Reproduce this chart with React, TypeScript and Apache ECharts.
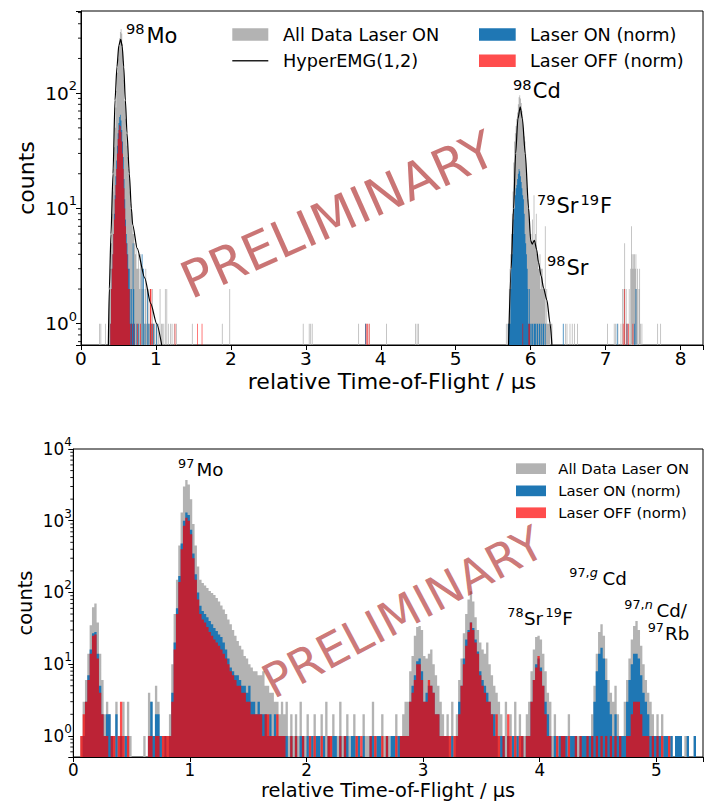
import React, { useEffect, useRef } from 'react';
import * as echarts from 'echarts';

const FONT = 'DejaVu Sans';
const GRAY = '#b3b3b3';
const BLUE = '#1f77b4';
const RED = 'rgba(255,0,0,0.7)';
const RED_PATCH = '#ff4d4d';
const WATERMARK = 'rgba(170,32,32,0.62)';

// ---------------- top panel (A = 98) ----------------
const TOP_BIN = 0.01;
const TOP_X_MAX = 8.3;
const TOP_Y_MIN = 0.654;
const TOP_Y_MAX = 516;

const topGrayMoStart = 0.36;
const topGrayMo = [
  1, 2, 2, 3, 5, 9, 14, 22, 34, 50,
  75, 105, 150, 200, 255, 300, 340, 360, 330, 265,
  190, 130, 85, 60, 45, 35, 28, 22, 18, 14,
  11, 9, 7, 6, 6, 5, 4, 5, 3, 3,
  4, 3, 2, 4, 3, 2, 3, 2, 1, 2,
  3, 1, 2, 1, 2, 1, 2, 1, 1, 2,
  1, 1, 1,
];
const topGrayCdStart = 5.69;
const topGrayCd = [
  1, 1, 2, 3, 4, 6, 9, 14, 25, 38,
  45, 52, 60, 68, 80, 92, 96, 90, 82, 70,
  60, 50, 42, 38, 30, 20, 15, 12, 10, 8,
  6, 6, 5, 8, 5, 13, 5, 6, 9, 4,
  4, 3, 3, 4, 2, 3, 3, 2, 2, 2,
  7, 1, 2, 1, 1, 1, 1, 0, 1, 1,
];
const topGraySingles = [
  [0.24, 1], [0.26, 1], [0.32, 1], [1.0, 1], [1.01, 1], [1.03, 1], [1.05, 2], [1.07, 1],
  [1.08, 1], [1.1, 1], [1.12, 2], [1.14, 2], [1.16, 1], [1.19, 1], [1.21, 1], [1.24, 1],
  [1.27, 1], [1.48, 1], [1.88, 1], [1.98, 2], [2.96, 1], [3.04, 1], [3.06, 1], [3.08, 1],
  [3.7, 1], [3.79, 1], [3.81, 1], [3.84, 1], [4.07, 1], [4.46, 1], [4.48, 1], [4.5, 1],
  [5.67, 1], [6.46, 1], [6.48, 1], [6.52, 1], [6.55, 1], [6.58, 1], [6.62, 1], [7.02, 1],
  [7.11, 1], [7.13, 1], [7.16, 1], [7.2, 1], [7.22, 2], [7.24, 2], [7.25, 5], [7.27, 2],
  [7.29, 1], [7.31, 2], [7.33, 3], [7.34, 7], [7.35, 4], [7.36, 3], [7.37, 4], [7.38, 4],
  [7.39, 3], [7.4, 4], [7.41, 2], [7.42, 3], [7.44, 2], [7.45, 3], [7.46, 1], [7.48, 1],
  [7.69, 1], [7.73, 1],
];

const topBlueMoStart = 0.39;
const topBlueMo = [
  1, 2, 3, 4, 6, 9, 13, 19, 26, 35,
  45, 55, 62, 65, 58, 48, 38, 28, 18, 12,
  8, 6, 5, 4, 3, 3, 2, 1, 2, 1,
  5, 2, 1, 0, 0, 1, 0, 1, 0, 0,
  0, 0, 4, 0, 3, 0, 1, 0, 0, 2,
  0, 1, 0, 0, 1, 0, 0, 1, 0, 0,
  0, 1,
];
const topBlueCdStart = 5.7;
const topBlueCd = [
  1, 1, 1, 2, 3, 4, 6, 8, 10, 13,
  15, 16, 18, 20, 22, 21, 19, 17, 15, 13,
  12, 9, 6, 5, 4, 3, 2, 1, 2, 1,
  0, 1, 1, 0, 1, 1, 1, 0, 1, 1,
  0, 1, 1, 0, 1, 0, 1, 1, 0, 1,
];
const topBlueSingles = [[3.79, 1], [6.43, 1], [7.15, 1], [7.28, 1], [7.38, 1], [7.4, 2]];

const topRedMoStart = 0.39;
const topRedMo = [
  1, 2, 3, 4, 6, 8, 12, 16, 22, 30,
  40, 48, 53, 52, 46, 38, 30, 22, 15, 10,
  7, 5, 4, 3, 2, 2, 1, 0, 1, 0,
  0, 1, 0, 0, 0, 0, 1, 0, 0, 0,
  1, 0, 0, 0, 0, 0, 0, 0, 0, 0,
  0, 0, 0, 2, 2, 0, 1,
];
const topRedSingles = [
  [1.25, 1], [1.55, 1], [1.61, 1], [3.8, 1], [3.82, 1], [3.84, 1], [5.89, 1],
  [5.97, 1], [5.98, 1], [7.23, 1], [7.25, 2], [7.28, 1], [7.3, 1], [7.36, 1],
];

const fitMo = [
  [0.365, 0.654], [0.378, 2], [0.4, 6], [0.427, 20], [0.454, 87], [0.48, 169], [0.505, 260],
  [0.53, 293], [0.55, 255], [0.57, 169], [0.592, 87], [0.614, 45], [0.645, 20], [0.672, 10],
  [0.69, 7.2], [0.75, 4.5], [0.85, 2.5], [0.93, 1.5], [1.01, 1.0], [1.077, 0.654],
];
const fitCd = [
  [5.705, 0.654], [5.74, 3], [5.772, 10], [5.8, 30], [5.83, 60], [5.861, 76], [5.89, 60],
  [5.928, 30], [5.973, 10], [6.0, 5.3], [6.02, 4.9], [6.05, 5.3], [6.08, 4.4], [6.105, 3.4],
  [6.14, 2.6], [6.172, 2.05], [6.217, 1.6], [6.26, 1.0], [6.284, 0.654],
];

// ---------------- bottom panel (A = 97) ----------------
const BOT_BIN = 0.02;
const BOT_X_MAX = 5.4;
const BOT_Y_MIN = 0.508;
const BOT_Y_MAX = 10000;

const botGray = [
  0, 0, 0, 1, 3, 6, 14, 35, 62, 70,
  38, 14, 6, 2, 3, 2, 1, 1, 3, 1,
  1, 3, 1, 3, 1, 0, 0, 0, 0, 0,
  1, 0, 4, 3, 1, 5, 3, 1, 1, 0,
  1, 2, 10, 50, 150, 450, 1300, 3000, 3700, 3200,
  2000, 900, 450, 230, 150, 135, 125, 115, 105, 98,
  92, 84, 75, 66, 58, 50, 42, 36, 30, 25,
  21, 18, 16, 13, 12, 10, 9, 8, 8, 7,
  7, 8, 5, 5, 4, 4, 3, 3, 2, 3,
  2, 3, 1, 2, 1, 2, 1, 3, 1, 1,
  2, 1, 1, 2, 1, 0, 2, 1, 3, 1,
  1, 2, 1, 1, 3, 1, 1, 2, 1, 0,
  2, 1, 1, 0, 2, 1, 1, 1, 3, 1,
  1, 0, 2, 1, 1, 1, 0, 1, 2, 1,
  1, 2, 3, 3, 8, 13, 25, 33, 34, 30,
  13, 12, 14, 16, 10, 7, 5, 3, 2, 1,
  2, 1, 3, 1, 2, 6, 12, 27, 50, 80,
  104, 75, 45, 30, 20, 16, 14, 20, 10, 7,
  5, 4, 3, 2, 1, 3, 1, 2, 1, 3,
  1, 2, 1, 1, 2, 3, 8, 16, 24, 25,
  22, 14, 8, 4, 3, 1, 2, 1, 0, 1,
  1, 0, 2, 1, 1, 0, 1, 0, 1, 1,
  1, 1, 2, 5, 14, 28, 36, 25, 12, 6,
  4, 3, 5, 2, 1, 1, 3, 6, 12, 22,
  34, 40, 30, 18, 10, 6, 4, 3, 2, 1,
  2, 1, 2, 1, 0, 1, 1, 0, 1, 1,
  1, 0, 1, 1, 0, 0, 1, 0, 0, 0,
];
const botBlue = [
  0, 0, 0, 0, 1, 3, 7, 16, 27, 28,
  14, 5, 2, 1, 2, 2, 1, 0, 2, 0,
  1, 0, 1, 0, 0, 0, 0, 0, 0, 0,
  0, 0, 1, 3, 1, 2, 2, 1, 0, 1,
  0, 1, 4, 20, 60, 170, 480, 1000, 1300, 1200,
  750, 350, 180, 100, 65, 55, 50, 45, 40, 36,
  32, 29, 26, 24, 20, 16, 12, 9, 8, 7,
  7, 6, 5, 5, 4, 5, 3, 3, 2, 3,
  2, 2, 2, 1, 2, 1, 2, 1, 1, 1,
  1, 1, 0, 1, 0, 1, 0, 1, 1, 0,
  1, 0, 1, 0, 1, 1, 0, 1, 0, 1,
  0, 1, 1, 0, 1, 0, 1, 1, 0, 1,
  1, 0, 1, 0, 1, 0, 0, 1, 1, 0,
  1, 1, 0, 0, 1, 0, 1, 1, 0, 1,
  1, 1, 1, 1, 3, 5, 7, 11, 12, 8,
  3, 4, 5, 5, 4, 2, 2, 1, 1, 1,
  1, 0, 1, 0, 1, 3, 5, 12, 22, 30,
  38, 32, 22, 15, 8, 6, 5, 4, 3, 2,
  2, 1, 0, 1, 1, 0, 1, 0, 1, 0,
  1, 0, 1, 0, 1, 1, 3, 6, 10, 12,
  9, 5, 3, 2, 1, 0, 1, 0, 1, 1,
  1, 1, 0, 1, 1, 1, 0, 1, 1, 1,
  1, 1, 1, 3, 8, 14, 17, 12, 6, 3,
  2, 1, 2, 1, 1, 1, 1, 3, 6, 10,
  14, 14, 12, 7, 4, 3, 2, 1, 1, 1,
  1, 1, 0, 1, 1, 0, 1, 0, 1, 1,
  1, 0, 0, 1, 0, 0, 1, 0, 0, 0,
];
const botRed = [
  0, 0, 0, 1, 2, 3, 6, 14, 25, 26,
  12, 4, 2, 1, 1, 0, 1, 1, 0, 1,
  3, 1, 0, 1, 0, 0, 0, 0, 0, 0,
  0, 0, 1, 1, 0, 1, 1, 0, 1, 1,
  1, 1, 3, 16, 50, 140, 400, 850, 1100, 1000,
  650, 300, 150, 80, 50, 42, 38, 33, 28, 25,
  22, 20, 18, 16, 14, 12, 10, 8, 7, 6,
  5, 5, 4, 4, 3, 3, 2, 2, 2, 2,
  2, 1, 2, 2, 1, 1, 1, 2, 1, 1,
  1, 0, 0, 1, 0, 1, 0, 0, 1, 0,
  0, 1, 0, 1, 0, 0, 1, 0, 0, 1,
  1, 0, 0, 0, 1, 0, 1, 0, 0, 0,
  0, 1, 0, 1, 0, 0, 0, 1, 0, 1,
  0, 0, 1, 0, 1, 0, 0, 0, 1, 0,
  1, 1, 1, 1, 3, 4, 6, 10, 10, 6,
  3, 3, 6, 5, 4, 2, 2, 1, 1, 1,
  1, 1, 0, 1, 1, 2, 5, 10, 18, 28,
  38, 30, 20, 14, 7, 5, 4, 3, 3, 2,
  1, 2, 1, 0, 1, 0, 2, 1, 0, 1,
  0, 1, 1, 0, 1, 1, 3, 6, 9, 13,
  8, 5, 2, 1, 1, 0, 0, 1, 0, 1,
  1, 0, 1, 0, 0, 1, 0, 1, 0, 0,
  1, 0, 1, 0, 1, 0, 1, 0, 1, 0,
  1, 0, 1, 0, 1, 0, 0, 1, 1, 2,
  3, 3, 3, 2, 1, 1, 1, 0, 1, 0,
  1, 0, 1, 0, 0, 1, 0, 0, 0, 0,
  0, 0, 0, 0, 0, 0, 0, 0, 0, 0,
];

const topMinor = [0.7, 0.8, 0.9, 2, 3, 4, 5, 6, 7, 8, 9, 20, 30, 40, 50, 60, 70, 80, 90, 200, 300, 400, 500];
const botMinor = [
  0.6, 0.7, 0.8, 0.9, 2, 3, 4, 5, 6, 7, 8, 9, 20, 30, 40, 50, 60, 70, 80, 90,
  200, 300, 400, 500, 600, 700, 800, 900, 2000, 3000, 4000, 5000, 6000, 7000, 8000, 9000,
];

// ---------------- helpers ----------------
function denseCounts(nBins: number, w: number, segments: [number, number[]][], singles: number[][]) {
  const arr = new Array(nBins).fill(0);
  for (const [start, counts] of segments) {
    const k0 = Math.round(start / w);
    counts.forEach((c, i) => {
      const k = k0 + i;
      if (k >= 0 && k < nBins) arr[k] = c;
    });
  }
  for (const [t, c] of singles) {
    const k = Math.round(t / w);
    if (k >= 0 && k < nBins) arr[k] = c;
  }
  return arr;
}

function stepPoints(counts: number[], w: number, floor: number) {
  const pts: number[][] = [];
  for (let i = 0; i < counts.length; i++) {
    const c = counts[i];
    pts.push([+(i * w).toFixed(4), c > 0 ? c : floor]);
  }
  pts.push([+(counts.length * w).toFixed(4), floor]);
  return pts;
}

function histSeries(name: string, data: number[][], color: string, idx: number, z: number) {
  return {
    type: 'line', name, xAxisIndex: idx, yAxisIndex: idx, data, step: 'end',
    symbol: 'none', showSymbol: false, silent: true, z, clip: true,
    lineStyle: { width: 0, opacity: 0 },
    areaStyle: { color, opacity: 1, origin: 'start' },
    emphasis: { disabled: true },
  };
}

function minorSeries(vals: number[], idx: number) {
  return {
    type: 'custom', coordinateSystem: 'cartesian2d', xAxisIndex: idx, yAxisIndex: idx,
    silent: true, z: 10,
    data: vals.map((v) => [0, v]),
    renderItem: (_p: any, api: any) => {
      const p = api.coord([api.value(0), api.value(1)]);
      return {
        type: 'line',
        shape: { x1: p[0] - 3, y1: p[1], x2: p[0], y2: p[1] },
        style: { stroke: '#000', lineWidth: 0.9 },
      };
    },
  };
}

function logLabel(fs: number, sfs: number, pad: number, margin: number) {
  return {
    margin,
    formatter: (v: number) => {
      const l = Math.log10(v);
      const r = Math.round(l);
      if (Math.abs(l - r) > 1e-6) return '';
      return `{b|10}{s|${r}}`;
    },
    rich: {
      b: { fontSize: fs, fontFamily: FONT, color: '#000' },
      s: { fontSize: sfs, fontFamily: FONT, color: '#000', padding: [0, 0, pad, 0] },
    },
  };
}

const intFormatter = (v: number) => (Math.abs(v - Math.round(v)) < 1e-6 ? String(Math.round(v)) : '');

function T(text: string, x: number, base: number, fs: number, extra: any = {}) {
  return {
    type: 'text', x, y: base - 0.346 * fs, z: 100, silent: true,
    style: {
      text, fontSize: fs, fontFamily: FONT, fill: '#000',
      align: 'left', verticalAlign: 'middle', textAlign: 'left', textVerticalAlign: 'middle', ...extra,
    },
  };
}
function TC(text: string, x: number, yc: number, fs: number, extra: any = {}, rot = 0) {
  return {
    type: 'text', x, y: yc, z: 100, silent: true, rotation: rot,
    style: {
      text, fontSize: fs, fontFamily: FONT, fill: '#000',
      align: 'left', verticalAlign: 'middle', textAlign: 'left', textVerticalAlign: 'middle', ...extra,
    },
  };
}
function rectEl(x: number, y: number, w: number, h: number, fill: string) {
  return { type: 'rect', z: 100, silent: true, shape: { x, y, width: w, height: h }, style: { fill } };
}
function supRich(num: string, ital: string, x: number, base: number, fs: number) {
  return {
    type: 'text', x, y: base - 0.346 * fs, z: 100, silent: true,
    style: {
      text: `{a|${num}}{i|${ital}}`, fontSize: fs, fontFamily: FONT, fill: '#000',
      align: 'left', verticalAlign: 'middle', textAlign: 'left', textVerticalAlign: 'middle',
      rich: {
        a: { fontSize: fs, fontFamily: FONT, fill: '#000', color: '#000' },
        i: { fontSize: fs, fontFamily: FONT, fontStyle: 'italic', fill: '#000', color: '#000' },
      },
    },
  };
}

function buildOption() {
  const nTop = Math.round(TOP_X_MAX / TOP_BIN);
  const topGray = denseCounts(nTop, TOP_BIN, [[topGrayMoStart, topGrayMo], [topGrayCdStart, topGrayCd]], topGraySingles);
  const topBlue = denseCounts(nTop, TOP_BIN, [[topBlueMoStart, topBlueMo], [topBlueCdStart, topBlueCd]], topBlueSingles);
  const topRed = denseCounts(nTop, TOP_BIN, [[topRedMoStart, topRedMo]], topRedSingles);

  const axisCommonX = (max: number, fs: number, margin: number, grid: number) => ({
    gridIndex: grid, type: 'value', min: 0, max, interval: 1,
    axisLine: { show: true, onZero: false, lineStyle: { color: '#000', width: 1 } },
    axisTick: { show: true, length: 5, lineStyle: { color: '#000', width: 1 } },
    axisLabel: { formatter: intFormatter, fontSize: fs, fontFamily: FONT, color: '#000', margin },
    splitLine: { show: false },
  });
  const axisCommonY = (min: number, max: number, grid: number, label: any) => ({
    gridIndex: grid, type: 'log', logBase: 10, min, max,
    axisLine: { show: true, lineStyle: { color: '#000', width: 1 } },
    axisTick: { show: true, length: 5, lineStyle: { color: '#000', width: 1 } },
    axisLabel: label,
    splitLine: { show: false },
    minorTick: { show: false },
  });

  const graphic: any[] = [
    // watermarks
    TC('PRELIMINARY', 338, 215, 51, { fill: WATERMARK, align: 'center', textAlign: 'center' }, (24 * Math.PI) / 180),
    TC('PRELIMINARY', 403, 612, 47, { fill: WATERMARK, align: 'center', textAlign: 'center' }, (28 * Math.PI) / 180),
    // axis titles
    TC('relative Time-of-Flight / \u03bcs', 392, 381.5, 22, { align: 'center', textAlign: 'center' }),
    TC('counts', 26, 178, 22, { align: 'center', textAlign: 'center' }, Math.PI / 2),
    TC('relative Time-of-Flight / \u03bcs', 388, 790, 19.4, { align: 'center', textAlign: 'center' }),
    TC('counts', 25.2, 603, 19.4, { align: 'center', textAlign: 'center' }, Math.PI / 2),
    // top legend
    rectEl(232.3, 28.3, 36, 12.4, GRAY),
    TC('All Data Laser ON', 283, 34.5, 17.7),
    { type: 'line', z: 100, silent: true, shape: { x1: 232.3, y1: 60.7, x2: 268.3, y2: 60.7 }, style: { stroke: '#222', lineWidth: 1.5 } },
    TC('HyperEMG(1,2)', 283, 60.7, 17.7),
    rectEl(479, 28.3, 36.7, 12.4, BLUE),
    TC('Laser ON (norm)', 530, 34.5, 17.7),
    rectEl(479, 54.5, 36.7, 12.4, RED_PATCH),
    TC('Laser OFF (norm)', 530, 60.7, 17.7),
    // bottom legend
    rectEl(516, 463.3, 30, 10.7, GRAY),
    TC('All Data Laser ON', 558.3, 468.7, 14.8),
    rectEl(516, 485.5, 30, 10.7, BLUE),
    TC('Laser ON (norm)', 558.3, 490.8, 14.8),
    rectEl(516, 507.4, 30, 10.7, RED_PATCH),
    TC('Laser OFF (norm)', 558.3, 512.7, 14.8),
    // top annotations
    T('98', 126, 33.3, 14.6), T('Mo', 146.5, 43.3, 21),
    T('98', 513, 90, 14.6), T('Cd', 532.8, 98.3, 21),
    T('79', 537, 205, 14.6), T('Sr', 556.5, 213.3, 21), T('19', 580.5, 205, 14.6), T('F', 600, 213.3, 21),
    T('98', 547, 266, 14.6), T('Sr', 566.5, 275, 21),
    // bottom annotations
    T('97', 178, 468.3, 12.8), T('Mo', 196.5, 476, 18.3),
    T('78', 507.3, 616.7, 12.8), T('Sr', 524, 625, 18.3), T('19', 545.5, 616.7, 12.8), T('F', 562.3, 625, 18.3),
    supRich('97,', 'g', 569.3, 577, 12.8), T('Cd', 602.5, 585, 18.3),
    supRich('97,', 'n', 624.3, 608.5, 12.8), T('Cd/', 656.5, 616.7, 18.3),
    T('97', 647.7, 632, 12.8), T('Rb', 665, 640, 18.3),
  ];

  return {
    animation: false,
    backgroundColor: '#fff',
    grid: [
      { left: 81, right: 6, top: 11, bottom: 456, show: true, borderColor: '#000', borderWidth: 1, backgroundColor: 'transparent' },
      { left: 73.3, right: 6, top: 449, bottom: 44, show: true, borderColor: '#000', borderWidth: 1, backgroundColor: 'transparent' },
    ],
    xAxis: [axisCommonX(TOP_X_MAX, 18.5, 4, 0), axisCommonX(BOT_X_MAX, 16.8, 4, 1)],
    yAxis: [
      axisCommonY(TOP_Y_MIN, TOP_Y_MAX, 0, logLabel(18.5, 13, 15, 4)),
      axisCommonY(BOT_Y_MIN, BOT_Y_MAX, 1, logLabel(16.8, 12, 14, 1.5)),
    ],
    series: [
      histSeries('All Data Laser ON', stepPoints(topGray, TOP_BIN, TOP_Y_MIN), GRAY, 0, 2),
      histSeries('Laser ON (norm)', stepPoints(topBlue, TOP_BIN, TOP_Y_MIN), BLUE, 0, 3),
      histSeries('Laser OFF (norm)', stepPoints(topRed, TOP_BIN, TOP_Y_MIN), RED, 0, 4),
      {
        type: 'line', name: 'HyperEMG(1,2)', xAxisIndex: 0, yAxisIndex: 0, data: fitMo, symbol: 'none',
        smooth: 0.25, smoothMonotone: 'x', silent: true, z: 6, lineStyle: { color: '#000', width: 1.2 },
      },
      {
        type: 'line', name: 'HyperEMG(1,2) Cd', xAxisIndex: 0, yAxisIndex: 0, data: fitCd, symbol: 'none',
        smooth: 0.25, smoothMonotone: 'x', silent: true, z: 6, lineStyle: { color: '#000', width: 1.2 },
      },
      minorSeries(topMinor, 0),
      histSeries('All Data Laser ON ', stepPoints(botGray, BOT_BIN, BOT_Y_MIN), GRAY, 1, 2),
      histSeries('Laser ON (norm) ', stepPoints(botBlue, BOT_BIN, BOT_Y_MIN), BLUE, 1, 3),
      histSeries('Laser OFF (norm) ', stepPoints(botRed, BOT_BIN, BOT_Y_MIN), RED, 1, 4),
      minorSeries(botMinor, 1),
    ],
    graphic,
  };
}

export default function App() {
  const ref = useRef<HTMLDivElement>(null);
  useEffect(() => {
    if (!ref.current) return;
    const chart = echarts.init(ref.current, null, { renderer: 'svg' });
    chart.setOption(buildOption() as any);
    return () => chart.dispose();
  }, []);
  return (
    <div
      ref={ref}
      style={{ position: 'fixed', left: 0, top: 0, width: 709, height: 801, background: '#fff' }}
    />
  );
}
